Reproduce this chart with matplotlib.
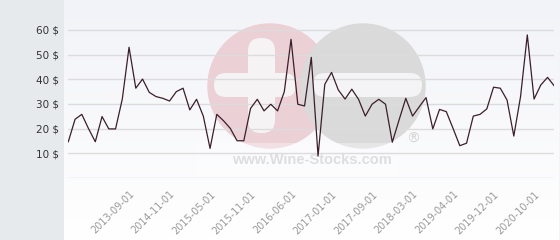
import numpy as np
import matplotlib
matplotlib.use('Agg')
from matplotlib import pyplot as plt
from matplotlib.patches import Circle, FancyBboxPatch, Rectangle

# price per bottle, one value per sale
prices = [14.7, 23.8, 25.8, 20.0, 14.7, 24.9, 19.9, 19.9, 32.0, 53.0,
          36.4, 40.1, 34.7, 33.0, 32.3, 31.2, 35.0, 36.4, 27.6, 31.9,
          25.1, 12.0, 25.8, 23.2, 20.1, 15.1, 15.1, 28.2, 31.9, 27.2,
          29.9, 27.2, 35.0, 56.2, 29.9, 29.2, 48.9, 8.9, 38.0, 42.8,
          35.7, 32.0, 36.0, 31.9, 25.1, 29.9, 31.9, 29.9, 14.5, 23.5,
          32.3, 25.1, 28.9, 32.6, 19.9, 27.8, 26.9, 20.1, 13.1, 14.1,
          25.1, 25.8, 28.0, 36.8, 36.4, 31.6, 17.0, 33.0, 58.0, 32.0,
          37.7, 40.8, 37.3]
date_labels = ['2013-09-01', '2014-11-01', '2015-05-01', '2015-11-01',
               '2016-06-01', '2017-01-01', '2017-09-01', '2018-03-01',
               '2019-04-01', '2019-12-01', '2020-10-01']
y_values = [0, 10, 20, 30, 40, 50, 60]

W, H = 560, 240
fig = plt.figure(figsize=(W / 100, H / 100), dpi=100)
fig.patch.set_facecolor('white')

# background layer in pixel coords (panel, gradient, watermark)
bg = fig.add_axes([0, 0, 1, 1])
bg.set_xlim(0, W)
bg.set_ylim(H, 0)
bg.axis('off')
bg.add_patch(Rectangle((0, 0), 63, H, color='#e6eaed', zorder=0))
grad = np.linspace(0, 1, 100).reshape(-1, 1)
top = np.array([242, 243, 248]) / 255
bot = np.array([255, 255, 255]) / 255
img = top[None, None, :] * (1 - grad[:, :, None]) + bot[None, None, :] * grad[:, :, None]
bg.imshow(img, extent=(64, 559, H, 0), aspect='auto', zorder=1)
bg.plot([559.5, 559.5], [0, H], color='#c8c8c8', lw=1, zorder=2)

# watermark
bg.add_patch(Circle((270, 86), 62, color='#ebd0d6', zorder=3))
bg.add_patch(Circle((363, 86), 62, color='#dadada', zorder=4))
bg.add_patch(FancyBboxPatch((214, 73), 82, 24, boxstyle='round,pad=0,rounding_size=12',
                            color='#f6f3f5', zorder=5, lw=0))
bg.add_patch(FancyBboxPatch((248, 38), 27, 95, boxstyle='round,pad=0,rounding_size=13',
                            color='#f6f3f5', zorder=5, lw=0))
bg.add_patch(FancyBboxPatch((313, 73), 109, 24, boxstyle='round,pad=0,rounding_size=12',
                            color='#f4f4f7', zorder=5, lw=0))
bg.add_patch(Rectangle((197, 143), 201, 33, color='white', alpha=0.35, zorder=5, lw=0))
bg.text(312, 160, 'www.Wine-Stocks.com', family='Liberation Sans', weight='bold',
        fontsize=10.5, color='#dedede', ha='center', va='center', zorder=6)
bg.text(413, 139, '®', family='DejaVu Sans', fontsize=10, color='#d4d4d4',
        ha='center', va='center', zorder=6)

# main chart
x = np.arange(len(prices))
ax = fig.add_axes([68.3 / W, (H - 178) / H, (554.3 - 68.3) / W, 178 / H])
ax.set_facecolor('none')
ax.set_xlim(0, len(prices) - 1)
ax.set_ylim(0, 178 / 2.467)
for v in y_values:
    ax.axhline(v, color='#dcdcdc', lw=1, zorder=1)
ax.plot(x, prices, color='#3a1f2a', lw=0.9, zorder=3)

ax.set_yticks(y_values)
ax.set_yticklabels(['' if v == 0 else '%d $' % v for v in y_values])
ax.set_xticks(x[9::6])
ax.set_xticklabels(date_labels, rotation=45, ha='right', va='top',
                   rotation_mode='anchor', color='#9a9a9a', fontsize=7)
ax.tick_params(axis='y', length=0, pad=7, labelsize=7.5, labelcolor='#333333')
ax.tick_params(axis='x', length=0, pad=8)
for s in ax.spines.values():
    s.set_visible(False)

plt.savefig('out.png', dpi=100)
